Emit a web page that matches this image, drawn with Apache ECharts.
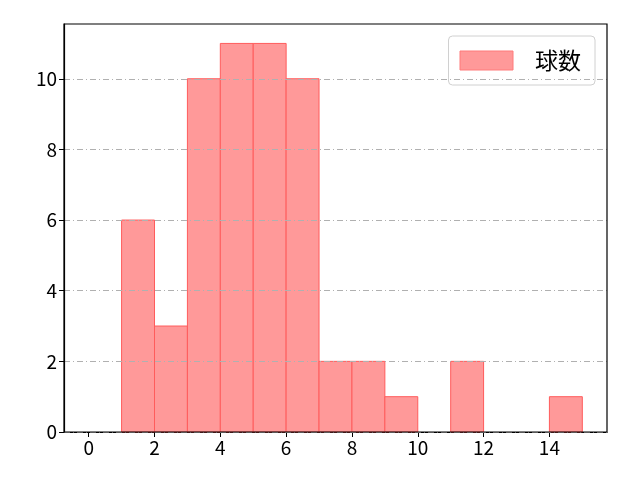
<!DOCTYPE html>
<html><head><meta charset="utf-8">
<script src="https://cdn.jsdelivr.net/npm/echarts@6/dist/echarts.min.js"></script>
<style>html,body{margin:0;padding:0;background:#fff}#c{width:640px;height:480px}</style>
</head><body><div id="c"></div>
<script>
const binStarts = [0,1,2,3,4,5,6,7,8,9,10,11,12,13,14];
const binEnds   = [1,2,3,4,5,6,7,8,9,10,11,12,13,14,15];
const counts    = [0,6,3,10,11,11,10,2,2,1,0,2,0,0,1];
const seriesName = '球数';
const xTicks = [0,2,4,6,8,10,12,14];
const yTicks = [0,2,4,6,8,10];

const data = binStarts.map((s,i)=>[s, binEnds[i], counts[i]]);
const font = '"Noto Sans CJK JP", "DejaVu Sans", sans-serif';
const chart = echarts.init(document.getElementById('c'), null, {renderer:'canvas'});
chart.setOption({
  animation:false,
  backgroundColor:'#fff',
  grid:{left:64, right:33, top:24, bottom:48, show:true, borderColor:'#000', borderWidth:1.2, z:10},
  legend:{
    show:true, right:45, top:36, orient:'vertical',
    backgroundColor:'#fff', borderColor:'#d0d0d0', borderWidth:1, borderRadius:4,
    padding:[13,14,13,11], itemWidth:53, itemHeight:19, itemGap:20,
    icon:'rect',
    textStyle:{fontFamily:font, fontSize:23, color:'#000', padding:[0,0,0,17]},
    data:[{name:seriesName, itemStyle:{color:'#ff9999', borderColor:'#ff7a7a', borderWidth:1}}]
  },
  xAxis:{type:'value', min:-0.75, max:15.75,
    axisLine:{show:true, onZero:false, lineStyle:{color:'#000', width:1.2}},
    axisTick:{show:true, length:5, lineStyle:{color:'#000'}, customValues: xTicks},
    axisLabel:{fontFamily:font, fontSize:19, color:'#000', margin:6,
      customValues: xTicks, formatter: v=>String(v)},
    splitLine:{show:false}},
  yAxis:{type:'value', min:0, max:11.55, z:5,
    axisLine:{show:true, onZero:false, lineStyle:{color:'#000', width:1.2}},
    axisTick:{show:true, length:5, lineStyle:{color:'#000'}, customValues: yTicks},
    axisLabel:{fontFamily:font, fontSize:19, color:'#000', margin:7,
      customValues: yTicks, formatter: v=>String(v)},
    splitLine:{show:true, lineStyle:{color:'#b0b0b0', width:1, type:[6,3,1,3]}}},
  series:[{
    name:seriesName, type:'custom', color:'#ff9999',
    renderItem:function(params, api){
      const x0 = api.value(0), x1 = api.value(1), h = api.value(2);
      if (h <= 0) return null;
      const p0 = api.coord([x0, h]);
      const p1 = api.coord([x1, 0]);
      return {type:'rect', shape:{x:p0[0], y:p0[1], width:p1[0]-p0[0], height:p1[1]-p0[1]},
        style:{fill:'#ff9999', stroke:'#ff5c5c', lineWidth:1}};
    },
    encode:{x:[0,1], y:2},
    data:data
  }]
});
</script></body></html>
